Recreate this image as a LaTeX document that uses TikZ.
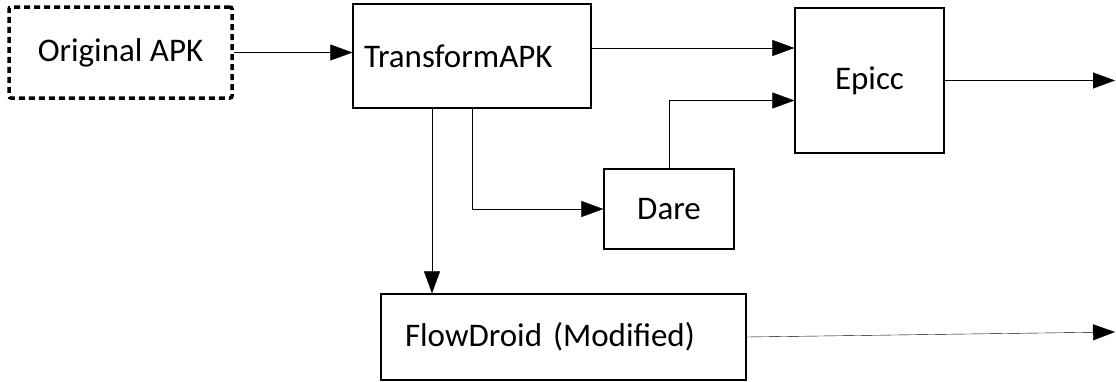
\documentclass[tikz,border=0pt]{standalone}
\usepackage{fontspec}
\setmainfont{Carlito}
\usetikzlibrary{arrows.meta,positioning}
\tikzset{
    %Define standard arrow tip
    >={Triangle[length=22pt,width=16pt]},
    line width=1.3pt,
    blok/.style={
      rectangle,
      draw=black, line width=1.3pt,
      inner sep=0pt,
      font=\fontsize{33}{40}\selectfont,
      text centered},
    startblok/.style={
      blok,
      line width=3.5pt,
      dash pattern=on 6pt off 4pt,
      rounded corners=2pt},
}
\begin{document}
\begin{tikzpicture}[x=1pt,y=-1pt]
    \useasboundingbox (0,0) rectangle (1116,381);
    \node (orig) [startblok, minimum width=223pt, minimum height=91pt] at (120.5,52.5)
          {Original APK};
    \node (transform) [blok, text width=216pt, align=left, inner xsep=11pt,
          minimum height=104pt] at (472,56)
          {TransformAPK};
    \node (epicc) [blok, minimum width=149pt, minimum height=145pt] at (869.5,80.5)
          {Epicc};
    \node (dare) [blok, minimum width=130pt, minimum height=80pt] at (669,209)
          {Dare};
    \node (flowdroid) [blok, text width=317pt, align=left, inner xsep=24pt,
          minimum height=86pt] at (563.5,337)
          {FlowDroid (Modified)};
    \coordinate (epiccout) at (1115,80.5);
    \coordinate (flowout) at (1115,332);
    \draw [->] (orig.east) -- (orig.east -| transform.west);
    \draw [->] ([yshift=8pt]transform.east) -- ([yshift=8pt]transform.east -| epicc.west);
    \draw [->] (transform.south) |- (dare.west);
    \draw [->] ([xshift=-40pt]transform.south) -- ([xshift=-40pt]transform.south |- flowdroid.north);
    \draw [->] (dare.north) |- ([yshift=-20pt]epicc.west);
    \draw [->] (epicc.east) -- (epiccout);
    \draw [->] (flowdroid.east) -- (flowout);
\end{tikzpicture}
\end{document}
